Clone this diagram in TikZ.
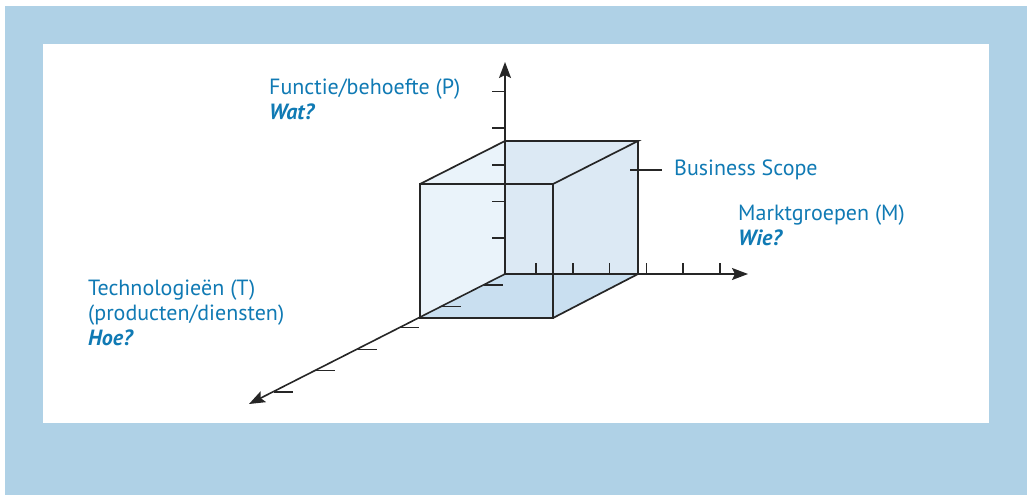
\documentclass[tikz,border=0pt]{standalone}
\usepackage{fontspec}
\setmainfont{PT Sans}
\usetikzlibrary{arrows.meta,positioning,calc}
\definecolor{framebl}{RGB}{175,209,230}
\definecolor{labelbl}{RGB}{16,122,180}
\definecolor{facelt}{RGB}{234,243,250}
\definecolor{faceback}{RGB}{220,233,244}
\definecolor{facebot}{RGB}{201,223,240}

\begin{document}
\begin{tikzpicture}[
  x=1pt, y=-1pt,
  every node/.style={font=\fontsize{22}{25}\selectfont, text=labelbl, inner sep=0pt},
  axis/.style={-{Stealth[length=16pt, width=12pt, inset=3pt]}, black!85, line width=1.6pt},
  edge/.style={black!85, line width=1.7pt, line join=miter},
  tick/.style={black!85, line width=1.3pt}
]
\useasboundingbox (0,0) rectangle (1027,495);

% Frame and white panel.
\fill[framebl] (5,6) rectangle (1027,495);
\fill[white] (43,44) rectangle (989,423);

% Axis points.
\coordinate (O) at (505,274);
\coordinate (ptip) at (505,62);
\coordinate (mtip) at (748,274);
\coordinate (ttip) at (249,404);

% Cube corners.
\coordinate (bTL) at (505,141);
\coordinate (bTR) at (638,141);
\coordinate (bBR) at (638,274);
\coordinate (fTL) at (420,184);
\coordinate (fTR) at (553,184);
\coordinate (fBL) at (420,318);
\coordinate (fBR) at (553,318);

% Cube faces.
\fill[facelt] (fTL) -- (bTL) -- (bTR) -- (bBR) -- (fBR) -- (fBL) -- cycle;
\fill[faceback] (bTL) rectangle (bBR);
\fill[facebot] (fBL) -- (O) -- (bBR) -- (fBR) -- cycle;

% Axes with ticks.
\draw[axis] (O) -- (ptip);
\draw[axis] (O) -- (mtip);
\draw[axis] (O) -- (ttip);
\foreach \y in {238,201.5,165,128,91.5}
  \draw[tick] (492,\y) -- (505,\y);
\foreach \x in {536,573,609.5,646.5,683,720}
  \draw[tick] (\x,274) -- (\x,262.5);
\foreach \k in {0,...,5}
  \draw[tick] ($(O)!{0.0846+0.1646*\k}!(ttip)$) ++(1,0) -- ++(19,0);

% Cube edges.
\draw[edge] (fTL) rectangle (fBR);
\draw[edge] (fTL) -- (bTL) -- (bTR) -- (fTR);
\draw[edge] (bTR) -- (bBR) -- (fBR);

% Labels.
\node[anchor=west, align=left] (plabel) at (269,99.5)
  {Functie/behoefte (P)\\{\bfseries\itshape Wat?}};
\node[anchor=west, align=left] (mlabel) at (738,225.5)
  {Marktgroepen (M)\\{\bfseries\itshape Wie?}};
\node[anchor=west, align=left] (tlabel) at (88,313)
  {Technologieën (T)\\(producten/diensten)\\{\bfseries\itshape Hoe?}};
\node[anchor=west] (scope) at (674,170) {Business Scope};
\coordinate (lead) at (630,170);
\draw[tick] (lead) -- ([xshift=-12pt]scope.west);
\end{tikzpicture}
\end{document}
